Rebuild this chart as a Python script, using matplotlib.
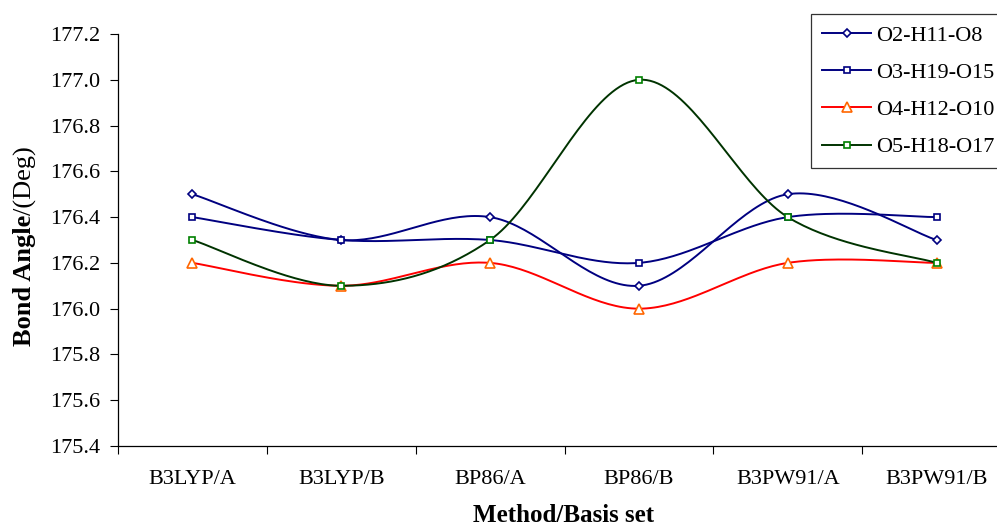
import numpy as np
import matplotlib
matplotlib.use("Agg")
import matplotlib.pyplot as plt
from matplotlib.lines import Line2D

categories = ["B3LYP/A", "B3LYP/B", "BP86/A", "BP86/B", "B3PW91/A", "B3PW91/B"]
series_names = ["O2-H11-O8", "O3-H19-O15", "O4-H12-O10", "O5-H18-O17"]
o2_h11_o8 = [176.5, 176.3, 176.4, 176.1, 176.5, 176.3]
o3_h19_o15 = [176.4, 176.3, 176.3, 176.2, 176.4, 176.4]
o4_h12_o10 = [176.2, 176.1, 176.2, 176.0, 176.2, 176.2]
o5_h18_o17 = [176.3, 176.1, 176.3, 177.0, 176.4, 176.2]
y_ticks = [175.4, 175.6, 175.8, 176.0, 176.2, 176.4, 176.6, 176.8, 177.0, 177.2]

styles = [
    dict(color="#000080", mcolor="#000080", marker="D", ms=4.5),
    dict(color="#000080", mcolor="#000080", marker="s", ms=4.8),
    dict(color="#FF0000", mcolor="#FF6600", marker="^", ms=6.5),
    dict(color="#003300", mcolor="#008000", marker="s", ms=4.8),
]

plt.rcParams["font.family"] = ["Liberation Serif", "DejaVu Serif"]


def smooth(xs, ys, n=40):
    P = np.column_stack([xs, ys]).astype(float)
    m = len(P)
    out = []
    for i in range(m - 1):
        p0 = P[max(i - 1, 0)]
        p1 = P[i]
        p2 = P[i + 1]
        p3 = P[min(i + 2, m - 1)]
        c1 = p1 + (p2 - p0) / 6.0
        c2 = p2 - (p3 - p1) / 6.0
        t = np.linspace(0, 1, n)[:, None]
        seg = ((1 - t) ** 3) * p1 + 3 * ((1 - t) ** 2) * t * c1 + 3 * (1 - t) * t ** 2 * c2 + t ** 3 * p2
        out.append(seg if i == 0 else seg[1:])
    s = np.vstack(out)
    return s[:, 0], s[:, 1]


fig = plt.figure(figsize=(9.97, 5.27), dpi=100)
ax = fig.add_axes([118 / 997, 1 - 446 / 527, (1011 - 118) / 997, (446 - 34) / 527])

xs = np.arange(len(categories)) + 0.5
all_series = [o2_h11_o8, o3_h19_o15, o4_h12_o10, o5_h18_o17]
handles = []
for name, vals, st in zip(series_names, all_series, styles):
    sx, sy = smooth(xs, vals)
    ax.plot(sx, sy, color=st["color"], lw=1.4, zorder=2)
    ax.plot(xs, vals, ls="none", marker=st["marker"], ms=st["ms"], mfc="white",
            mec=st["mcolor"], mew=1.2, zorder=3)
    handles.append(Line2D([], [], color=st["color"], lw=1.4, marker=st["marker"], ms=st["ms"],
                          mfc="white", mec=st["mcolor"], mew=1.2))

ax.set_xlim(0, len(categories))
ax.set_ylim(175.4, 177.2)
ax.set_yticks(y_ticks)
ax.set_yticklabels([f"{v:.1f}" for v in y_ticks])
ax.set_xticks(np.arange(len(categories) + 1))
ax.set_xticklabels([])
ax.set_xticks(xs, minor=True)
ax.set_xticklabels(categories, minor=True)
ax.tick_params(axis="x", which="major", length=6, direction="out", width=0.8)
ax.tick_params(axis="x", which="minor", length=0, pad=17, labelsize=16)
ax.tick_params(axis="y", length=6, direction="out", width=0.8, pad=7, labelsize=16)
for sp in ["top", "right"]:
    ax.spines[sp].set_visible(False)
for sp in ["left", "bottom"]:
    ax.spines[sp].set_linewidth(0.9)

fig.text(564 / 997, 1 - 516 / 527, "Method/Basis set", ha="center", va="center",
         fontsize=18, fontweight="bold")

t1 = fig.text(25 / 997, 1 - 346 / 527, "Bond Angle", rotation=90, ha="center", va="bottom",
              fontsize=19, fontweight="bold")
ax.annotate("/(Deg)", xy=(0.5, 1.0), xycoords=t1, rotation=90, ha="center", va="bottom",
            fontsize=19, annotation_clip=False)

leg = fig.legend(handles, series_names, loc="upper left", bbox_to_anchor=(811 / 997, 1 - 14 / 527),
                 frameon=True, fancybox=False, edgecolor="black", fontsize=16,
                 handlelength=2.2, handletextpad=0.25, labelspacing=0.75, borderpad=0.5,
                 borderaxespad=0)
leg.get_frame().set_linewidth(0.9)

fig.savefig("out.png", dpi=100)
